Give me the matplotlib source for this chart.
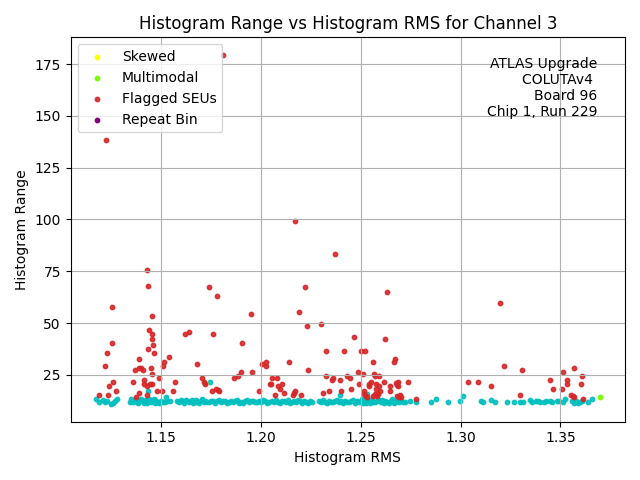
import matplotlib
matplotlib.use("Agg")
import matplotlib.pyplot as plt
import numpy as np

# channel 3 histograms: (rms, range)
normal_left = [(1.1175, 13.3), (1.1192, 12.0), (1.1212, 13.0), (1.1222, 11.7), (1.1232, 12.2),
               (1.1252, 10.8), (1.1262, 11.5), (1.1272, 12.3), (1.1282, 13.2)]

normal_a = [(1.1345, 12.0), (1.1352, 13.4), (1.1360, 11.8), (1.1368, 12.6), (1.1375, 13.0),
            (1.1382, 12.1), (1.1388, 11.4), (1.1395, 12.8), (1.1402, 13.5), (1.1408, 12.2),
            (1.1415, 11.6), (1.1420, 12.9), (1.1427, 12.3), (1.1433, 11.2), (1.1440, 13.1),
            (1.1445, 12.5), (1.1452, 11.8), (1.1458, 12.7), (1.1465, 13.2), (1.1472, 11.5),
            (1.1478, 12.4), (1.1485, 12.0), (1.1492, 11.3), (1.1500, 12.6), (1.1510, 12.1),
            (1.1520, 11.9), (1.1532, 12.4), (1.1545, 12.2), (1.1437, 17.3), (1.1525, 14.1),
            (1.1747, 21.5)]

normal_b = [(1.1580, 12.4), (1.1590, 11.8), (1.1600, 12.9), (1.1610, 12.2), (1.1618, 11.5),
            (1.1625, 13.0), (1.1632, 12.6), (1.1640, 11.9), (1.1648, 12.3), (1.1655, 12.8),
            (1.1663, 11.4), (1.1670, 12.1), (1.1678, 12.7), (1.1685, 12.0), (1.1692, 11.6),
            (1.1700, 12.5), (1.1708, 13.1), (1.1715, 11.9), (1.1722, 12.3), (1.1730, 12.0),
            (1.1740, 11.7), (1.1750, 12.6), (1.1760, 12.2), (1.1770, 11.5), (1.1780, 12.4),
            (1.1790, 12.9), (1.1800, 11.8), (1.1810, 12.2), (1.1820, 12.6), (1.1830, 11.3),
            (1.1840, 12.0), (1.1850, 12.5), (1.1860, 11.9), (1.1870, 12.2), (1.1880, 12.7),
            (1.1890, 11.6), (1.1900, 12.1), (1.1910, 11.4), (1.1920, 12.3), (1.1930, 12.8),
            (1.1940, 11.9), (1.1950, 12.2), (1.1960, 12.6), (1.1970, 11.7), (1.1980, 12.0),
            (1.1990, 12.4), (1.2000, 11.8), (1.2010, 12.9), (1.2020, 12.3), (1.2030, 11.6),
            (1.2040, 12.1)]

normal_c = [(1.2055, 12.2), (1.2065, 11.7), (1.2075, 12.8), (1.2085, 12.0), (1.2095, 11.5),
            (1.2105, 12.6), (1.2115, 12.3), (1.2125, 11.9), (1.2135, 12.7), (1.2145, 11.4),
            (1.2155, 12.1), (1.2165, 12.5), (1.2175, 11.8), (1.2185, 12.9), (1.2195, 12.2),
            (1.2205, 11.6), (1.2215, 12.4), (1.2225, 12.0), (1.2235, 11.3), (1.2245, 12.6),
            (1.2255, 12.1)]

normal_d = [(1.2290, 12.3), (1.2300, 11.8), (1.2310, 12.7), (1.2320, 12.1), (1.2330, 11.5),
            (1.2340, 12.5), (1.2350, 12.0), (1.2360, 11.7), (1.2370, 12.4), (1.2380, 12.9),
            (1.2390, 11.9), (1.2397, 15.2), (1.2400, 12.2), (1.2410, 11.4), (1.2420, 12.6),
            (1.2430, 12.0), (1.2440, 11.8), (1.2450, 12.3), (1.2460, 12.7), (1.2470, 11.6),
            (1.2480, 12.2), (1.2490, 11.9), (1.2500, 12.5), (1.2505, 13.5), (1.2510, 11.3),
            (1.2515, 12.8), (1.2520, 12.1), (1.2525, 11.6), (1.2530, 15.8), (1.2535, 12.9),
            (1.2540, 12.3), (1.2545, 11.4), (1.2550, 12.6), (1.2555, 13.3), (1.2560, 12.0),
            (1.2570, 11.7), (1.2580, 12.4), (1.2590, 12.8), (1.2600, 11.9), (1.2605, 13.0),
            (1.2610, 12.2), (1.2615, 11.3), (1.2620, 12.5), (1.2630, 12.0), (1.2640, 11.6),
            (1.2650, 12.3), (1.2655, 13.4), (1.2660, 12.7), (1.2665, 11.2), (1.2670, 12.1),
            (1.2680, 12.6), (1.2690, 11.8), (1.2700, 12.4), (1.2710, 12.0), (1.2720, 11.7)]

normal_tail = [(1.2745, 12.3), (1.2778, 11.8), (1.2853, 12.0), (1.2878, 13.3), (1.2937, 12.0),
               (1.2998, 12.6), (1.3012, 14.6), (1.3102, 12.6), (1.3112, 11.9), (1.3153, 12.8),
               (1.3172, 12.0), (1.3232, 11.7), (1.3267, 11.9), (1.3297, 12.0), (1.3312, 12.0),
               (1.3347, 13.0), (1.3357, 12.0), (1.3377, 12.5), (1.3387, 12.2), (1.3397, 11.8),
               (1.3417, 12.0), (1.3427, 12.6), (1.3447, 12.3), (1.3457, 11.9), (1.3482, 12.2),
               (1.3492, 12.5), (1.3512, 12.0), (1.3522, 13.2), (1.3557, 12.2), (1.3567, 11.6),
               (1.3577, 12.4), (1.3587, 11.2), (1.3597, 12.1), (1.3607, 12.6), (1.3637, 12.0),
               (1.3657, 13.2)]

flagged = [(1.1225, 138.6), (1.1812, 179.5), (1.2170, 99.5), (1.2372, 83.5), (1.1432, 75.5),
           (1.1437, 68.1), (1.1742, 67.2), (1.1782, 63.3), (1.2222, 67.2), (1.2632, 65.2),
           (1.3197, 59.5), (1.1257, 57.7), (1.1457, 53.4), (1.1952, 54.2), (1.2192, 55.1),
           (1.2232, 48.4), (1.2302, 49.4), (1.1441, 46.6), (1.1457, 44.6), (1.1457, 42.2),
           (1.1462, 39.4), (1.1437, 37.3), (1.1467, 35.4), (1.1622, 44.6), (1.1642, 45.5),
           (1.1762, 44.6), (1.1907, 40.2), (1.2467, 43.1), (1.2622, 42.2), (1.1257, 40.2),
           (1.1232, 35.4), (1.1222, 29.2), (1.1392, 32.5), (1.1542, 33.5), (1.1515, 31.1),
           (1.1512, 29.2), (1.1680, 30.1), (1.2005, 30.1), (1.2025, 31.1), (1.2027, 29.2),
           (1.2142, 31.1), (1.2327, 36.4), (1.2417, 36.4), (1.2502, 36.4), (1.2522, 36.4),
           (1.2562, 31.1), (1.2667, 31.1), (1.2672, 32.5), (1.3217, 29.2), (1.3307, 27.3),
           (1.3567, 28.2), (1.3512, 26.3),
           (1.1372, 27.3), (1.1392, 28.2), (1.1402, 28.2), (1.1412, 27.3), (1.1452, 28.2),
           (1.1457, 25.3), (1.1490, 23.4), (1.1572, 21.5), (1.1362, 21.6), (1.1417, 22.4),
           (1.1417, 20.5), (1.1432, 19.6), (1.1447, 20.5), (1.1457, 20.5), (1.1262, 21.6),
           (1.1242, 19.6), (1.1277, 17.2), (1.1192, 15.2), (1.1237, 15.2), (1.1392, 16.2),
           (1.1377, 14.3), (1.1432, 15.2), (1.1482, 17.2), (1.1507, 17.2), (1.1562, 17.2),
           (1.1707, 23.4), (1.1717, 21.5), (1.1722, 20.5), (1.1757, 17.2), (1.1777, 18.1),
           (1.1787, 17.6), (1.1792, 17.2), (1.1867, 23.4), (1.1887, 24.4), (1.1903, 26.3),
           (1.1957, 26.3), (1.1990, 17.2), (1.2048, 20.5), (1.2237, 27.3), (1.2057, 23.4),
           (1.2082, 23.4), (1.2052, 20.5), (1.2087, 19.6), (1.2107, 20.5), (1.2097, 18.1),
           (1.2072, 15.2), (1.2117, 16.2), (1.2172, 17.2), (1.2167, 16.2), (1.2162, 15.2),
           (1.2202, 15.2),
           (1.2327, 24.4), (1.2357, 22.4), (1.2362, 23.4), (1.2397, 22.4), (1.2432, 24.4),
           (1.2447, 23.4), (1.2487, 26.3), (1.2512, 25.3), (1.2567, 25.3), (1.2592, 24.4),
           (1.2572, 24.4), (1.2452, 18.1), (1.2492, 20.5), (1.2542, 20.5), (1.2552, 21.5),
           (1.2542, 19.6), (1.2577, 20.5), (1.2577, 18.1), (1.2592, 19.6), (1.2597, 17.2),
           (1.2617, 21.5), (1.2647, 19.6), (1.2647, 17.2), (1.2677, 21.0), (1.2687, 21.5),
           (1.2687, 19.6), (1.2682, 20.2), (1.2737, 21.5),
           (1.2517, 17.2), (1.2517, 15.7), (1.2525, 14.7), (1.2532, 14.3), (1.2562, 14.7),
           (1.2572, 15.7), (1.2582, 14.7), (1.2587, 15.7), (1.2682, 14.7), (1.2692, 14.3),
           (1.2702, 14.3), (1.2697, 15.2), (1.2777, 13.3), (1.2312, 16.2), (1.2342, 17.2),
           (1.2402, 17.2),
           (1.3037, 21.5), (1.3087, 21.5), (1.3152, 19.6), (1.3297, 15.2), (1.3447, 22.4),
           (1.3532, 22.4), (1.3532, 20.5), (1.3607, 24.4), (1.3602, 20.5), (1.3462, 18.1),
           (1.3507, 18.1), (1.3552, 15.2), (1.3562, 14.7), (1.3567, 14.3), (1.3612, 13.3)]

skewed = [(1.1722, 20.9)]
multimodal = [(1.3697, 14.3)]
repeat_bin = []

normal = np.array(normal_left + normal_a + normal_b + normal_c + normal_d + normal_tail)
flagged = np.array(flagged)
skewed = np.array(skewed)
multimodal = np.array(multimodal)
repeat_bin = np.array(repeat_bin).reshape(-1, 2)

fig, ax = plt.subplots(figsize=(6.4, 4.8), dpi=100)

ax.scatter(normal[:, 0], normal[:, 1], s=10, color="c", alpha=0.9)
ax.scatter(skewed[:, 0], skewed[:, 1], s=10, color="yellow", label="Skewed")
ax.scatter(multimodal[:, 0], multimodal[:, 1], s=10, color="lawngreen", label="Multimodal")
ax.scatter(flagged[:, 0], flagged[:, 1], s=10, color="tab:red", alpha=0.9, label="Flagged SEUs")
ax.scatter(repeat_bin[:, 0], repeat_bin[:, 1], s=10, color="purple", label="Repeat Bin")

ax.set_title("Histogram Range vs Histogram RMS for Channel 3")
ax.set_xlabel("Histogram RMS")
ax.set_ylabel("Histogram Range")
ax.grid(True)
ax.legend(loc="upper left")
ax.text(0.95, 0.95, "ATLAS Upgrade\nCOLUTAv4 \nBoard 96\nChip 1, Run 229",
        transform=ax.transAxes, ha="right", va="top")

fig.tight_layout()
fig.savefig("out.png")
